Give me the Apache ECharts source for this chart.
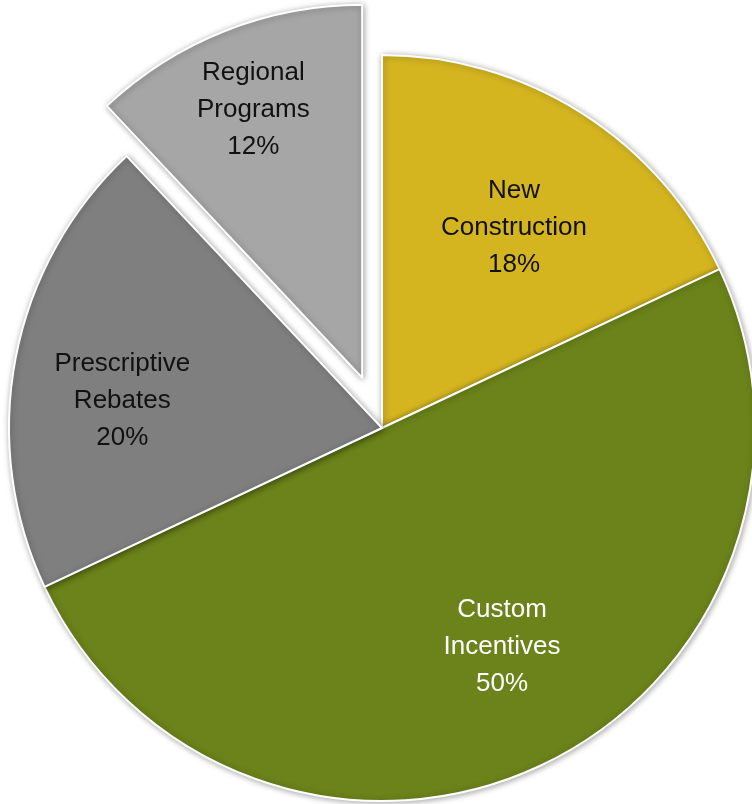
<!DOCTYPE html>
<html><head><meta charset="utf-8">
<script src="https://cdn.jsdelivr.net/npm/echarts@6/dist/echarts.min.js"></script>
<style>html,body{margin:0;padding:0;background:#fff}#c{width:752px;height:804px}</style>
</head><body><div id="c"></div>
<script>
var categories = ['New\nConstruction', 'Custom\nIncentives', 'Prescriptive\nRebates', 'Regional\nPrograms'];
var values = [18, 50, 20, 12];
var colors = ['#D4B520', '#6B831A', '#7F7F7F', '#A6A6A6'];
var labelColors = ['#111', '#fff', '#111', '#111'];
var exploded = [false, false, false, true];
var labelRadius = [0.643, 0.668, 0.70, 0.775];
var labelAngleShift = [-1, 3.6, 4.9, 0.5];

var CX = 382, CY = 428, R = 373, OFF = 54;
var total = values.reduce(function (a, b) { return a + b; }, 0);
function midAngle(i) {
  var before = values.slice(0, i).reduce(function (a, b) { return a + b; }, 0);
  return 90 - 360 * (before + values[i] / 2) / total;
}
var hidden = { color: 'rgba(0,0,0,0)', borderWidth: 0, shadowBlur: 0, shadowColor: 'rgba(0,0,0,0)' };

function makeSeries(center, showExploded) {
  var data = categories.map(function (c, i) {
    var visible = exploded[i] === showExploded;
    return {
      name: c, value: values[i],
      itemStyle: visible ? { color: colors[i] } : hidden,
      label: { show: visible, color: labelColors[i] }
    };
  });
  return {
    type: 'pie',
    center: center,
    radius: [0, R],
    startAngle: 90,
    clockwise: true,
    silent: true,
    data: data,
    itemStyle: {
      borderColor: '#fff', borderWidth: 2,
      shadowBlur: 6, shadowColor: 'rgba(0,0,0,0.35)', shadowOffsetX: 1, shadowOffsetY: 1
    },
    label: {
      position: 'inside',
      formatter: function (p) { return p.name + '\n' + Math.round(p.percent) + '%'; },
      fontFamily: "'Liberation Sans', Arial, sans-serif",
      fontSize: 26, lineHeight: 37
    },
    labelLine: { show: false },
    emphasis: { disabled: true },
    labelLayout: function (p) {
      var i = p.dataIndex;
      var a = (midAngle(i) + labelAngleShift[i]) * Math.PI / 180;
      var r = labelRadius[i] * R;
      return { x: center[0] + r * Math.cos(a), y: center[1] - r * Math.sin(a), align: 'center', verticalAlign: 'middle' };
    }
  };
}

var iExp = exploded.indexOf(true);
var mExp = midAngle(iExp) * Math.PI / 180;
var expCenter = [CX + OFF * Math.cos(mExp), CY - OFF * Math.sin(mExp)];

var chart = echarts.init(document.getElementById('c'));
chart.setOption({
  animation: false,
  series: [makeSeries([CX, CY], false), makeSeries(expCenter, true)]
});
</script></body></html>
